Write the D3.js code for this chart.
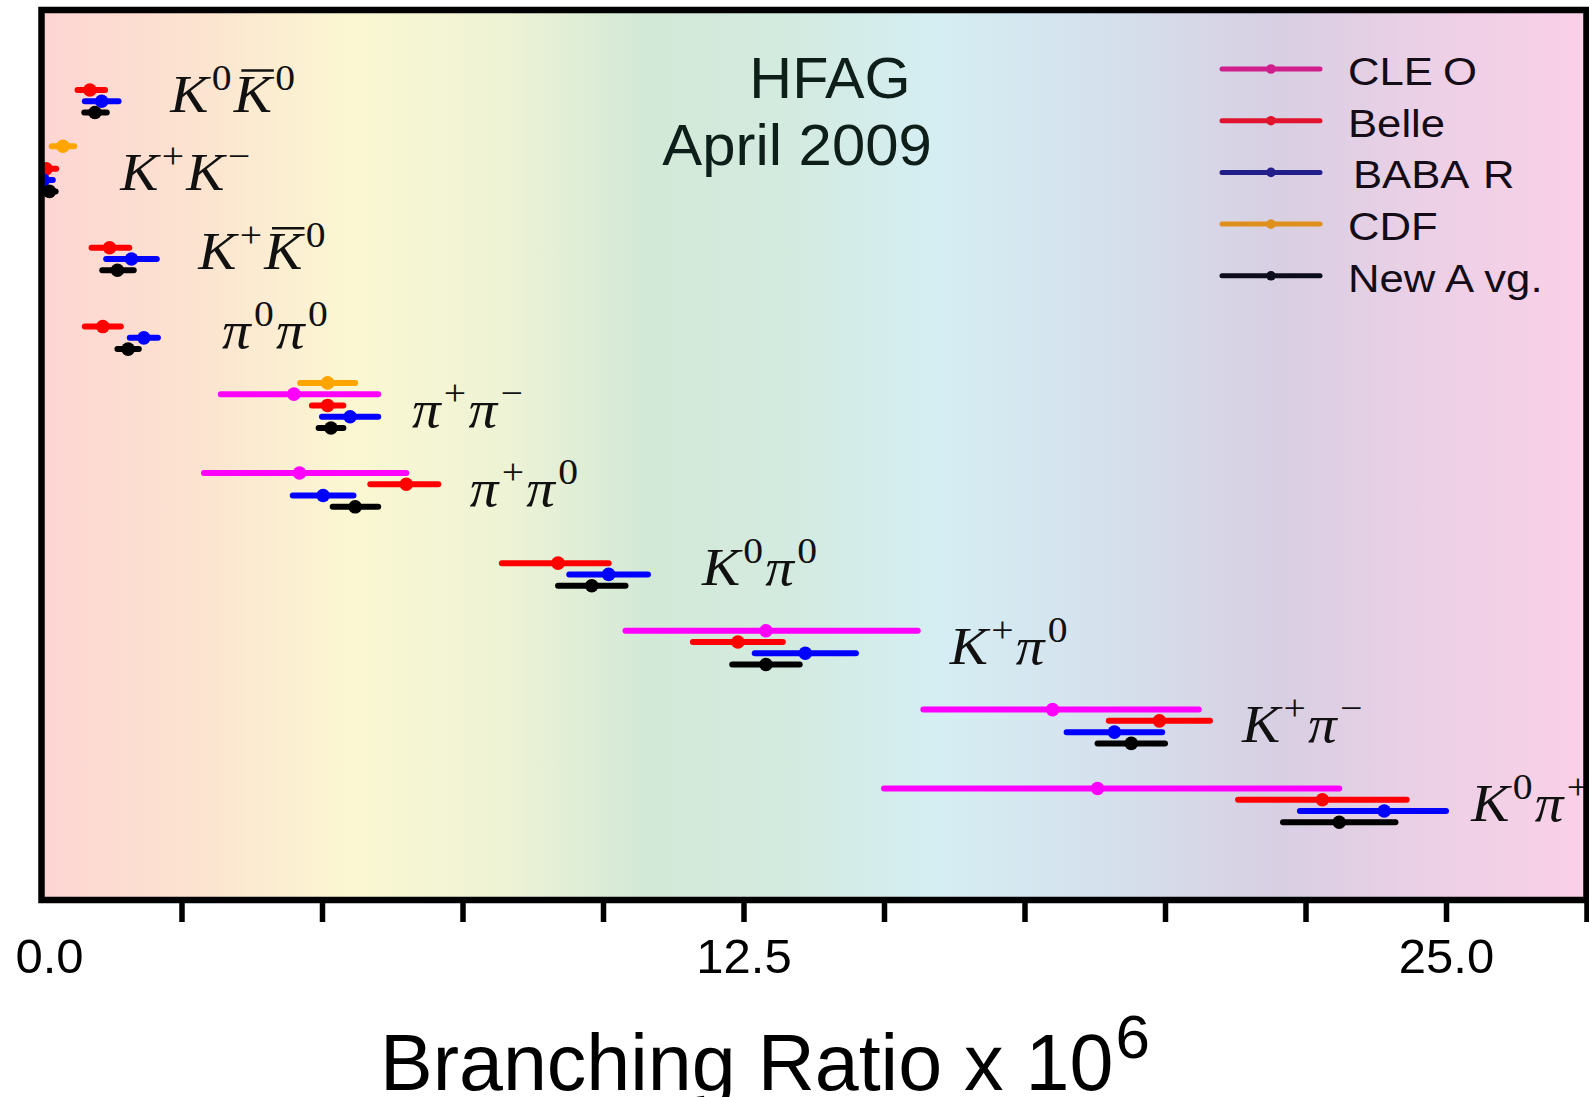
<!DOCTYPE html>
<html>
<head>
<meta charset="utf-8">
<script src="https://cdn.jsdelivr.net/npm/d3@7"></script>
<style>
  html, body { margin: 0; padding: 0; background: #ffffff; }
  svg { display: block; }
</style>
</head>
<body>
<svg id="chart" width="1589" height="1097"></svg>
<script>
// Charmless two-body B decay modes, listed top to bottom
const modes = ["K0K0bar", "K+K-", "K+K0bar", "pi0pi0", "pi+pi-", "pi+pi0", "K0pi0", "K+pi0", "K+pi-", "K0pi+"];

// Label glyph runs: "i" italic symbol, "b" italic symbol with overbar, "s" superscript
const modeLabels = [
  [["K", "i"], ["0", "s"], ["K", "b"], ["0", "s"]],
  [["K", "i"], ["+", "s"], ["K", "i"], ["\u2212", "s"]],
  [["K", "i"], ["+", "s"], ["K", "b"], ["0", "s"]],
  [["\u03c0", "i"], ["0", "s"], ["\u03c0", "i"], ["0", "s"]],
  [["\u03c0", "i"], ["+", "s"], ["\u03c0", "i"], ["\u2212", "s"]],
  [["\u03c0", "i"], ["+", "s"], ["\u03c0", "i"], ["0", "s"]],
  [["K", "i"], ["0", "s"], ["\u03c0", "i"], ["0", "s"]],
  [["K", "i"], ["+", "s"], ["\u03c0", "i"], ["0", "s"]],
  [["K", "i"], ["+", "s"], ["\u03c0", "i"], ["\u2212", "s"]],
  [["K", "i"], ["0", "s"], ["\u03c0", "i"], ["+", "s"]]
];

// Where each mode label starts, in branching-ratio units
const labelAt = [2.30, 1.41, 2.80, 3.22, 6.60, 7.63, 11.76, 16.17, 21.37, 25.45];

// Row order inside each mode block
const experiments = ["CDF", "CLEO", "Belle", "BABAR", "New Avg."];

// Measurements per mode: [central value, +error, -error] in units of 10^-6, null if none
const cdf = [null, [0.39, 0.20, 0.20], null, null, [5.10, 0.49, 0.49], null, null, null, null, null];
const cleo = [null, null, null, null, [4.5, 1.5, 1.3], [4.6, 1.9, 1.7], null, [12.9, 2.7, 2.5], [18.0, 2.6, 2.3], [18.8, 4.3, 3.8]];
const belle = [[0.87, 0.27, 0.22], [0.09, 0.18, 0.13], [1.22, 0.35, 0.32], [1.10, 0.32, 0.32], [5.10, 0.28, 0.28],
               [6.5, 0.57, 0.64], [9.2, 0.9, 1.0], [12.4, 0.8, 0.8], [19.9, 0.9, 0.9], [22.8, 1.5, 1.5]];
const babar = [[1.08, 0.30, 0.30], [0.04, 0.17, 0.17], [1.61, 0.45, 0.45], [1.83, 0.25, 0.25], [5.5, 0.5, 0.5],
               [5.02, 0.54, 0.54], [10.1, 0.7, 0.7], [13.6, 0.9, 0.9], [19.1, 0.85, 0.85], [23.9, 1.1, 1.5]];
const average = [[0.96, 0.21, 0.19], [0.15, 0.11, 0.10], [1.36, 0.29, 0.27], [1.55, 0.19, 0.19], [5.16, 0.22, 0.22],
                 [5.59, 0.41, 0.40], [9.8, 0.6, 0.6], [12.9, 0.6, 0.6], [19.4, 0.6, 0.6], [23.1, 1.0, 1.0]];

// Axis ticks and which of them carry a label
const xTicks = [0, 2.5, 5, 7.5, 10, 12.5, 15, 17.5, 20, 22.5, 25, 27.5];
const xTickLabels = [0, 12.5, 25];

// Legend entries, top to bottom
const legendEntries = ["CLEO", "Belle", "BABAR", "CDF", "New Avg."];

const measurements = { "CDF": cdf, "CLEO": cleo, "Belle": belle, "BABAR": babar, "New Avg.": average };
const markColor = { "CDF": "#ffa500", "CLEO": "#ff00ff", "Belle": "#ff0000", "BABAR": "#0000ff", "New Avg.": "#000000" };
const legendColor = { "CDF": "#df8f1b", "CLEO": "#cf1f8c", "Belle": "#e0142c", "BABAR": "#231f8a", "New Avg.": "#0c0c1c" };
// Loose letter gaps of the legend lettering: [character index, extra space]
const legendGaps = { "CLEO": [3, 9], "BABAR": [4, 12], "New Avg.": [5, 9] };

const svg = d3.select("#chart");
const frame = { left: 41.5, top: 10, right: 1586.5, bottom: 900 };
const SANS = "'Liberation Sans', Arial, Helvetica, sans-serif";
const SERIF = "'Liberation Serif', 'DejaVu Serif', 'Times New Roman', serif";

const x = d3.scaleLinear().domain([0, 27.5]).range([41, 1586.5]);
// y runs over row slots: each mode owns 7 slots, the first 5 used by experiments
const y = d3.scaleLinear().domain([-5.1, 73.9]).range([frame.top, frame.bottom]);
const rowOf = (modeIndex, expName) => modeIndex * 7 + experiments.indexOf(expName);

// Pastel rainbow backdrop
const defs = svg.append("defs");
const grad = defs.append("linearGradient").attr("id", "bg").attr("x1", "0").attr("x2", "1").attr("y1", "0").attr("y2", "0");
[
  [0.00, "#fdd5d3"], [0.10, "#fce3d0"], [0.20, "#fbf7d2"], [0.30, "#eef3d5"],
  [0.39, "#d3e9d7"], [0.48, "#d3eadf"], [0.58, "#d5eef3"], [0.70, "#d5dfec"],
  [0.80, "#d8cfe3"], [0.90, "#ecd0e6"], [1.00, "#fad0e7"]
].forEach(([o, c]) => grad.append("stop").attr("offset", o).attr("stop-color", c));

defs.append("clipPath").attr("id", "plotClip")
  .append("rect")
  .attr("x", frame.left).attr("y", frame.top)
  .attr("width", frame.right - frame.left).attr("height", frame.bottom - frame.top);

svg.append("rect")
  .attr("x", frame.left).attr("y", frame.top)
  .attr("width", frame.right - frame.left).attr("height", frame.bottom - frame.top)
  .attr("fill", "url(#bg)");

// Error bars and central values
const marks = svg.append("g").attr("clip-path", "url(#plotClip)");
experiments.forEach(exp => {
  measurements[exp].forEach((m, i) => {
    if (!m) return;
    const [v, ep, em] = m;
    const yy = y(rowOf(i, exp));
    marks.append("line")
      .attr("x1", x(v - em)).attr("x2", x(v + ep))
      .attr("y1", yy).attr("y2", yy)
      .attr("stroke", markColor[exp]).attr("stroke-width", 6).attr("stroke-linecap", "round");
    marks.append("circle")
      .attr("cx", x(v)).attr("cy", yy).attr("r", 6.8)
      .attr("fill", markColor[exp]);
  });
});

// Mode labels
const labels = svg.append("g");
modeLabels.forEach((runs, i) => {
  const base = y(rowOf(i, "New Avg.")) - 1;
  const g = labels.append("g")
    .attr("transform", `translate(${x(labelAt[i])},${base}) scale(1.1,1)`);
  const t = g.append("text")
    .attr("x", 0).attr("y", 0)
    .attr("font-family", SERIF).attr("font-size", 52).attr("fill", "#111");
  const bars = [];
  let charIndex = 0;
  runs.forEach(([txt, kind]) => {
    const sp = t.append("tspan").text(txt);
    if (kind === "s") {
      sp.attr("y", -22).attr("font-size", 36).attr("dx", 3);
    } else {
      sp.attr("y", 0).attr("font-style", "italic").attr("dx", charIndex === 0 ? 0 : 2);
      if (kind === "b") bars.push(charIndex);
    }
    charIndex += txt.length;
  });
  const node = t.node();
  bars.forEach(ci => {
    const ext = node.getExtentOfChar(ci);
    g.append("line")
      .attr("x1", ext.x + ext.width * 0.2).attr("x2", ext.x + ext.width * 1.05)
      .attr("y1", -41).attr("y2", -41)
      .attr("stroke", "#111").attr("stroke-width", 2.3);
  });
});

// Bottom axis
const axis = d3.axisBottom(x)
  .tickValues(xTicks)
  .tickSize(22)
  .tickFormat(d => xTickLabels.includes(d) ? d3.format(".1f")(d) : "");
const gx = svg.append("g").attr("transform", `translate(0,${frame.bottom})`).call(axis);
gx.select(".domain").remove();
gx.selectAll(".tick line").attr("stroke", "#000").attr("stroke-width", 5.5)
  .filter(d => d === 0).remove();
gx.selectAll(".tick text")
  .attr("y", 73).attr("dy", 0)
  .attr("dx", d => d === 0 ? 8 : 0)
  .attr("font-family", SANS).attr("font-size", 49).attr("fill", "#000");

// Frame
svg.append("rect")
  .attr("x", frame.left).attr("y", frame.top)
  .attr("width", frame.right - frame.left).attr("height", frame.bottom - frame.top)
  .attr("fill", "none").attr("stroke", "#000").attr("stroke-width", 6.5);

// Axis title
const title = svg.append("text")
  .attr("x", 380).attr("y", 1090)
  .attr("font-family", SANS).attr("font-size", 79).attr("fill", "#000");
title.append("tspan").text("Branching Ratio x 10");
title.append("tspan").text("6").attr("font-size", 62).attr("dy", -32).attr("dx", 2);

// Heading
svg.append("text")
  .attr("transform", "translate(830,98) scale(1.04,1)")
  .attr("text-anchor", "middle")
  .attr("font-family", SANS).attr("font-size", 57).attr("fill", "#0e1f1a")
  .text("HFAG");
svg.append("text")
  .attr("transform", "translate(797,165) scale(1.05,1)")
  .attr("text-anchor", "middle")
  .attr("font-family", SANS).attr("font-size", 57).attr("fill", "#0e1f1a")
  .text("April 2009");

// Legend
const legend = svg.append("g");
legendEntries.forEach((name, k) => {
  const ly = 69 + k * 51.7;
  const tx = name === "BABAR" ? 1353 : 1348;
  legend.append("line")
    .attr("x1", 1222).attr("x2", 1320).attr("y1", ly).attr("y2", ly)
    .attr("stroke", legendColor[name]).attr("stroke-width", 5).attr("stroke-linecap", "round");
  legend.append("circle").attr("cx", 1271).attr("cy", ly).attr("r", 4.8).attr("fill", legendColor[name]);
  const lt = legend.append("text")
    .attr("transform", `translate(${tx},${ly + 16}) scale(1.12,1)`)
    .attr("font-family", SANS).attr("font-size", 39).attr("fill", "#140c16");
  const gap = legendGaps[name];
  if (gap) {
    lt.append("tspan").text(name.slice(0, gap[0]));
    lt.append("tspan").attr("dx", gap[1]).text(name.slice(gap[0]));
  } else {
    lt.text(name);
  }
});
</script>
</body>
</html>
